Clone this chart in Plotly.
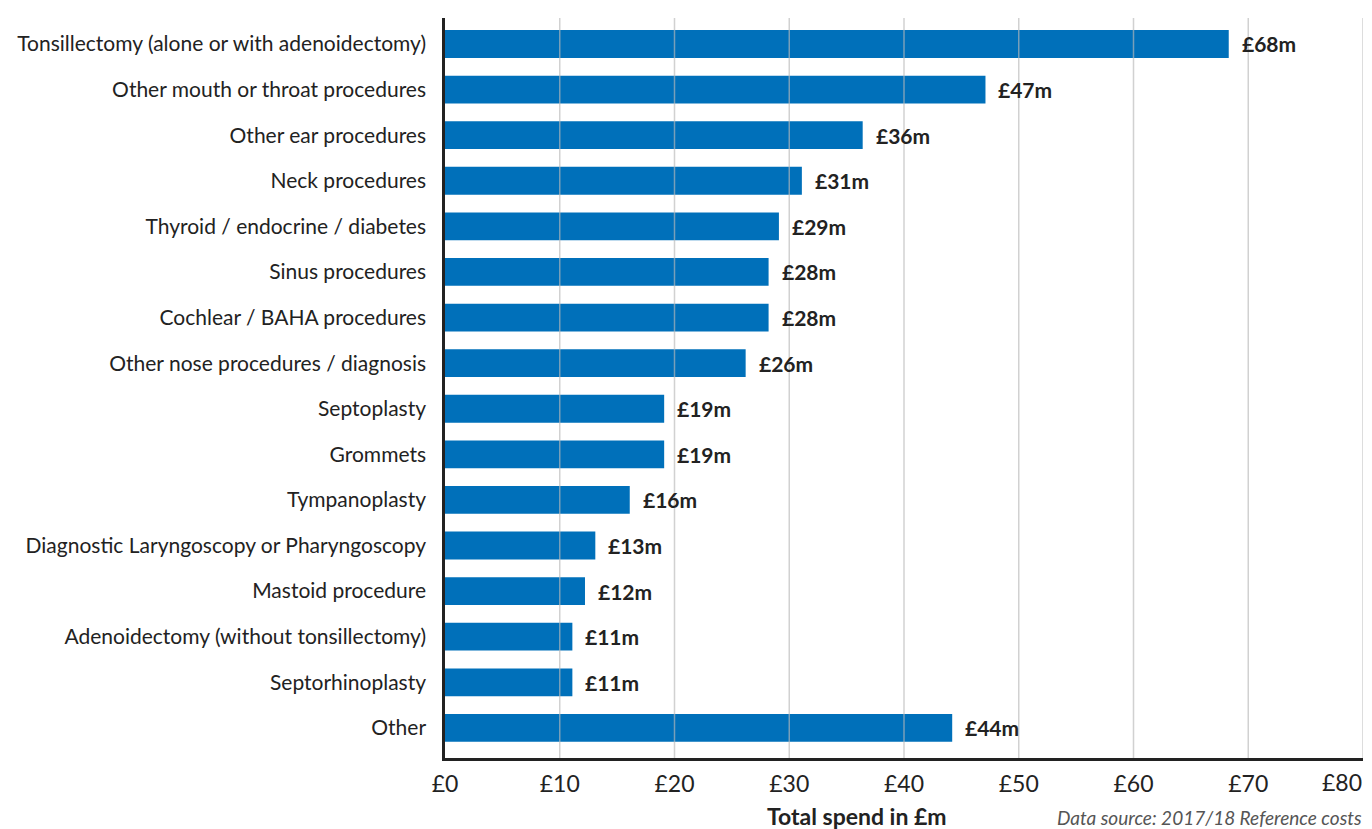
import plotly.graph_objects as go

categories = [
    "Tonsillectomy (alone or with adenoidectomy)",
    "Other mouth or throat procedures",
    "Other ear procedures",
    "Neck procedures",
    "Thyroid / endocrine / diabetes",
    "Sinus procedures",
    "Cochlear / BAHA procedures",
    "Other nose procedures / diagnosis",
    "Septoplasty",
    "Grommets",
    "Tympanoplasty",
    "Diagnostic Laryngoscopy or Pharyngoscopy",
    "Mastoid procedure",
    "Adenoidectomy (without tonsillectomy)",
    "Septorhinoplasty",
    "Other",
]
spend = [68.3, 47.1, 36.4, 31.1, 29.1, 28.2, 28.2, 26.2, 19.1, 19.1, 16.1, 13.1, 12.2, 11.1, 11.1, 44.2]
labels = ["£68m", "£47m", "£36m", "£31m", "£29m", "£28m", "£28m", "£26m",
          "£19m", "£19m", "£16m", "£13m", "£12m", "£11m", "£11m", "£44m"]
tick_vals = [0, 10, 20, 30, 40, 50, 60, 70, 80]
tick_text = ["£0", "£10", "£20", "£30", "£40", "£50", "£60", "£70", "£80"]

font = "Lato, 'Open Sans', sans-serif"
dark = "#222222"

fig = go.Figure()

fig.add_trace(
    go.Bar(
        x=spend,
        y=categories,
        orientation="h",
        marker=dict(color="#0070BA", line=dict(width=0)),
        hoverinfo="x+y",
    )
)

# value labels just past each bar end
for c, v, t in zip(categories, spend, labels):
    fig.add_annotation(
        x=v, y=c,
        text="<b>" + t + "</b>",
        showarrow=False,
        xanchor="left",
        xshift=11,
        font=dict(family=font, size=21, color=dark),
    )

# gridlines drawn over the bars
for v in tick_vals[1:]:
    fig.add_shape(
        type="line",
        xref="x", yref="paper",
        x0=v, x1=v, y0=0, y1=1,
        line=dict(color="rgba(185,185,185,0.65)", width=1.5),
        layer="above",
    )

# last tick label sits inside the right edge
fig.add_annotation(
    x=tick_vals[-1], y=0, xref="x", yref="paper",
    yshift=-24, xshift=1,
    text=tick_text[-1],
    showarrow=False,
    xanchor="right", yanchor="middle",
    font=dict(family=font, size=23, color=dark),
)

fig.add_annotation(
    x=0.449, y=0, xref="paper", yref="paper",
    yshift=-58,
    text="<b>Total spend in £m</b>",
    showarrow=False,
    xanchor="center", yanchor="middle",
    font=dict(family=font, size=23, color=dark),
)

fig.add_annotation(
    x=1, y=0, xref="paper", yref="paper",
    yshift=-59, xshift=1,
    text="<i>Data source: 2017/18 Reference costs</i>",
    showarrow=False,
    xanchor="right", yanchor="middle",
    font=dict(family=font, size=19, color="#555555"),
)

fig.update_layout(
    width=1364,
    height=821,
    margin=dict(l=431, r=9, t=10, b=71),
    plot_bgcolor="white",
    paper_bgcolor="white",
    showlegend=False,
    bargap=0.39,
    font=dict(family=font, color=dark),
)

fig.update_xaxes(
    range=[0, 80],
    tickvals=tick_vals[:-1],
    ticktext=tick_text[:-1],
    tickfont=dict(family=font, size=23, color=dark),
    showgrid=False,
    zeroline=False,
    showline=True,
    linecolor=dark,
    linewidth=2.5,
    ticks="",
    ticklabelstandoff=4,
    fixedrange=True,
)

fig.update_yaxes(
    range=[15.66, -0.57],
    tickfont=dict(family=font, size=21, color=dark),
    showgrid=False,
    showline=True,
    linecolor=dark,
    linewidth=2.5,
    ticks="",
    ticklabelstandoff=12,
    fixedrange=True,
)

fig.write_html("out.html")
